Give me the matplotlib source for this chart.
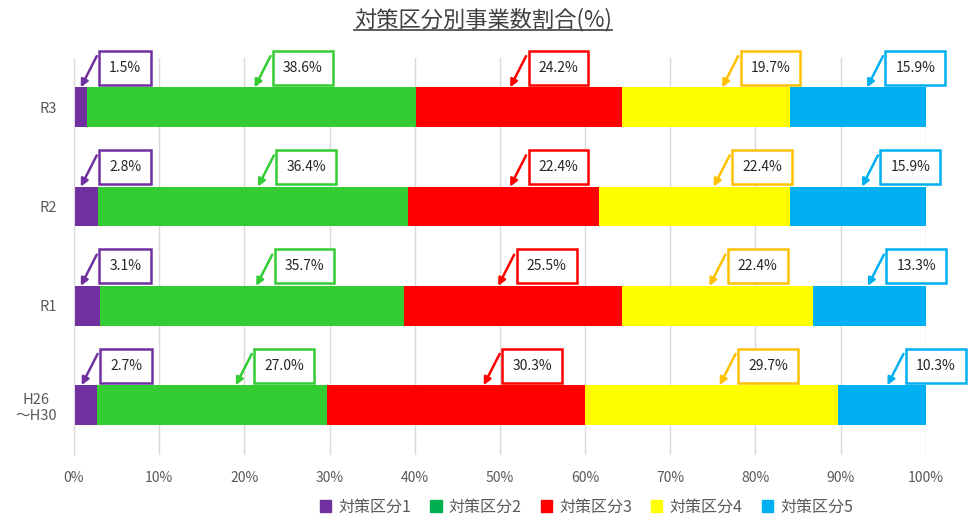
import numpy as np
import matplotlib
matplotlib.use("Agg")
import matplotlib.pyplot as plt
from matplotlib.patches import Patch
from matplotlib.lines import Line2D

plt.rcParams['font.family'] = ['Noto Sans CJK JP', 'DejaVu Sans']

# data (top row first)
periods = ["R3", "R2", "R1", "H26\n～H30"]
series = ["対策区分1", "対策区分2", "対策区分3", "対策区分4", "対策区分5"]
kubun1 = [1.5, 2.8, 3.1, 2.7]
kubun2 = [38.6, 36.4, 35.7, 27.0]
kubun3 = [24.2, 22.4, 25.5, 30.3]
kubun4 = [19.7, 22.4, 22.4, 29.7]
kubun5 = [15.9, 15.9, 13.3, 10.3]

# where each callout arrow touches the bar (x in %), same layout as values
tip_x = [
    [0.8, 21.2, 51.2, 76.1, 93.1],
    [0.8, 21.6, 51.2, 75.1, 92.5],
    [0.8, 21.4, 49.8, 74.6, 93.2],
    [0.9, 19.0, 48.1, 75.8, 95.5],
]

bar_colors = ["#7030A0", "#33CC33", "#FF0000", "#FFFF00", "#00B0F0"]
box_colors = ["#7030A0", "#33CC33", "#FF0000", "#FFC000", "#00B0F0"]
leg_colors = ["#7030A0", "#00B050", "#FF0000", "#FFFF00", "#00B0F0"]
gray = "#595959"

vals = np.array([kubun1, kubun2, kubun3, kubun4, kubun5], dtype=float)   # series x period
pct = vals / vals.sum(axis=0) * 100

fig = plt.figure(figsize=(9.68, 5.19), dpi=100)
ax = fig.add_axes([0.0764, 0.124, 0.880, 0.765])

ypos = np.arange(len(periods))[::-1]
left = np.zeros(len(periods))
bh = 0.4
for i, s in enumerate(series):
    ax.barh(ypos, pct[i], left=left, height=bh, color=bar_colors[i], label=s, zorder=2)
    left += pct[i]

# callouts: arrow + boxed value
for j, y in enumerate(ypos):
    for i in range(len(series)):
        tip = (tip_x[j][i], y + bh / 2)
        ax.annotate("", xy=tip, xytext=(11.5, 22.5), textcoords="offset points",
                    arrowprops=dict(arrowstyle="-|>", color=box_colors[i], lw=1.8,
                                    mutation_scale=11, shrinkA=0, shrinkB=0), zorder=4)
        ax.annotate(f"{vals[i, j]:.1f}%", xy=tip, xytext=(20.5, 14), textcoords="offset points",
                    ha="left", va="center", fontsize=10, color="#262626",
                    bbox=dict(boxstyle="square,pad=0.72", fc="white", ec=box_colors[i], lw=1.8),
                    zorder=5)

ax.set_xlim(0, 100)
ax.set_ylim(-0.5, 3.5)
ax.set_xticks(np.arange(0, 101, 10))
ax.set_xticklabels([f"{t}%" for t in range(0, 101, 10)])
ax.set_yticks(ypos)
ax.set_yticklabels(periods)
for lab in ax.get_yticklabels():
    lab.set_multialignment("center")
ax.tick_params(axis="x", length=0, pad=12, labelsize=10, labelcolor=gray)
ax.tick_params(axis="y", length=0, pad=12, labelsize=10.5, labelcolor=gray)
ax.grid(axis="x", color="#D9D9D9", lw=1, zorder=0)
for sp in ["top", "right", "bottom"]:
    ax.spines[sp].set_visible(False)
ax.spines["left"].set_color("#D9D9D9")

handles = [Patch(color=c) for c in leg_colors]
fig.legend(handles, series, loc="center", bbox_to_anchor=(0.606, 0.023), ncol=5,
           frameon=False, fontsize=11.5, handlelength=0.7, handleheight=0.7,
           handletextpad=0.45, columnspacing=1.2, labelcolor=gray)

# underlined title
t = fig.text(0.499, 0.963, "対策区分別事業数割合(%)", ha="center", va="center",
             fontsize=16, color="#404040")
fig.canvas.draw()
bb = t.get_window_extent().transformed(fig.transFigure.inverted())
fig.add_artist(Line2D([bb.x0, bb.x1], [bb.y0 + 0.002, bb.y0 + 0.002],
                      transform=fig.transFigure, color="#404040", lw=1.2))

fig.savefig("out.png", dpi=100)
